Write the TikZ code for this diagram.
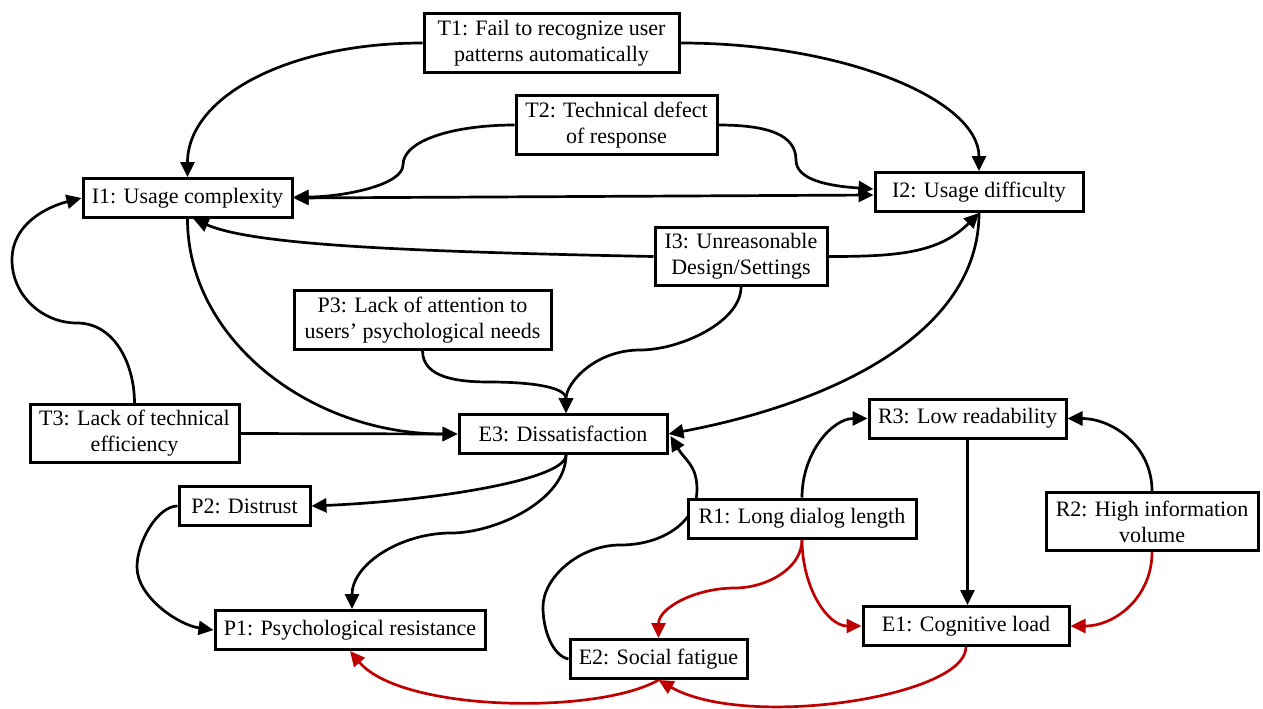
\documentclass[tikz,border=0pt]{standalone}
\usepackage{fontspec}
\setmainfont{Liberation Serif}
\usetikzlibrary{arrows.meta,calc,backgrounds}
\definecolor{linkred}{HTML}{C00000}
\begin{document}
\begin{tikzpicture}[x=0.5pt,y=-0.5pt,
  >={Triangle[length=7.5pt,width=7pt]},
  box/.style={draw, line width=1.5pt, fill=white, align=center,
    inner xsep=3pt, inner ysep=3pt, minimum height=19.5pt,
    font=\fontsize{11}{13}\selectfont},
  two/.style={minimum height=29pt},
  link/.style={line width=1.35pt, ->},
  redlink/.style={link, color=linkred}]

\useasboundingbox (0,0) rectangle (1263,708);

% factor boxes
\node[box,two,minimum width=127.5pt] (T1) at (551.5,43) {T1: Fail to recognize user\\patterns automatically};
\node[box,two,minimum width=100.5pt] (T2) at (616.5,125) {T2: Technical defect\\of response};
\node[box,minimum width=104.5pt] (I1) at (187.5,198) {I1: Usage complexity};
\node[box,minimum width=104pt] (I2) at (979,192) {I2: Usage difficulty};
\node[box,two,minimum width=86pt] (I3) at (741,256.5) {I3: Unreasonable\\Design/Settings};
\node[box,two,minimum width=128.5pt] (P3) at (422.5,320) {P3: Lack of attention to\\users’ psychological needs};
\node[box,two,minimum width=104.5pt] (T3) at (134.5,433.5) {T3: Lack of technical\\efficiency};
\node[box,minimum width=104pt] (E3) at (563,434) {E3: Dissatisfaction};
\node[box,minimum width=98.5pt] (R3) at (967.5,418.5) {R3: Low readability};
\node[box,minimum width=65.5pt] (P2) at (244.5,506) {P2: Distrust};
\node[box,minimum width=114pt] (R1) at (802,518.5) {R1: Long dialog length};
\node[box,two,minimum width=106pt] (R2) at (1152,521.5) {R2: High information\\volume};
\node[box,minimum width=135pt] (P1) at (350,630) {P1: Psychological resistance};
\node[box,minimum width=103pt] (E1) at (966,626) {E1: Cognitive load};
\node[box,minimum width=88.5pt] (E2) at (658.5,659) {E2: Social fatigue};

\begin{scope}[on background layer]
\fill[white] (0,0) rectangle (1263,708);

% technical causes
\draw[link] (T1.west) .. controls +(-135,0) and +(0,-80) .. (I1.north);
\draw[link] (T1.east) .. controls +(164,0) and +(0,-71) .. (I2.north);
\draw[link] (T2.west) .. controls +(-60,0) and +(0,-25) .. (403,165)
  .. controls +(0,20) and +(50,0) .. ($(I1.east)+(0,-1)$);
\draw[link] (T2.east) .. controls +(50,0) and +(0,-25) .. (796,160)
  .. controls +(0,20) and +(-45,-3) .. ($(I2.west)+(0,-3)$);
\draw[link,<->] (I1.east) -- ($(I2.west)+(0,3)$);
\draw[link] (T3.north) .. controls +(0,-38) and +(38,0) .. (77,323)
  .. controls +(-35,0) and +(0,35) .. (12,260)
  .. controls +(0,-36) and +(-35,9) .. (I1.west);
\draw[link] (T3.east) -- (E3.west);

% interaction causes
\draw[link] (I3.west) .. controls +(-250,-5) and +(60,26) .. ($(I1.south)+(6,0)$);
\draw[link] (I3.east) .. controls +(70,0) and +(-40,40) .. (I2.south);
\draw[link] (I1.south) .. controls +(0,119) and +(-149,0) .. (E3.west);
\draw[link] (I3.south) .. controls +(0,35) and +(40,0) .. (640,350)
  .. controls +(-45,0) and +(0,-30) .. ($(E3.north)+(3,0)$);
\draw[link] (I2.south) .. controls +(0,122) and +(160,-30) .. (E3.east);

% psychological causes
\draw[link] (P3.south) .. controls +(0,28) and +(-30,0) .. (490,382)
  .. controls +(30,0) and +(0,-28) .. ($(E3.north)+(3,0)$);
\draw[link] ($(E3.south)+(3,0)$) .. controls +(0,25) and +(120,-5) .. (P2.east);
\draw[link] ($(E3.south)+(3,0)$) .. controls +(0,45) and +(45,0) .. (451,533)
  .. controls +(-50,0) and +(0,-45) .. ($(P1.north)+(2,0)$);
\draw[link] (P2.west) .. controls +(-20,0) and +(0,-25) .. (137,567)
  .. controls +(0,30) and +(-35,-5) .. (P1.west);

% readability causes
\draw[link] (R1.north) .. controls +(0,-45) and +(-35,0) .. (R3.west);
\draw[link] (R2.north) .. controls +(0,-45) and +(45,0) .. (R3.east);
\draw[link] (R3.south) -- (R3.south |- E1.north);
\draw[link] (E2.west) .. controls +(-15,-3) and +(0,25) .. (543,607)
  .. controls +(0,-30) and +(-40,0) .. (620,545)
  .. controls +(45,0) and +(0,30) .. (697,490)
  .. controls +(0,-25) and +(15,25) .. ($(E3.east)+(2,2)$);

% emotional load links
\draw[redlink] (R1.south) .. controls +(0,30) and +(30,0) .. (735,588)
  .. controls +(-40,0) and +(0,-30) .. (E2.north);
\draw[redlink] (R1.south) .. controls +(0,48) and +(-34,0) .. (E1.west);
\draw[redlink] (R2.south) .. controls +(0,45) and +(45,0) .. (E1.east);
\draw[redlink] (E1.south) .. controls +(0,50) and +(87,50) .. (E2.south);
\draw[redlink] (E2.south) .. controls +(-61,35) and +(51,61) .. (P1.south);
\end{scope}
\end{tikzpicture}
\end{document}
